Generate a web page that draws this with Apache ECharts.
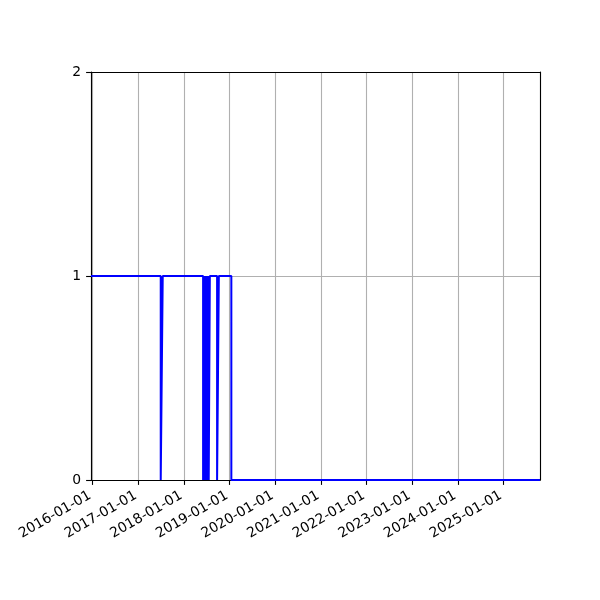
<!DOCTYPE html>
<html>
<head>
<meta charset="utf-8">
<script src="https://cdn.jsdelivr.net/npm/echarts@6/dist/echarts.min.js"></script>
<style>html,body{margin:0;padding:0;background:#fff}#c{width:600px;height:600px}</style>
</head>
<body>
<div id="c"></div>
<script>
// change points: value holds from date until the next change
var dates = [
  '2015-12-19',
  '2017-06-29','2017-07-15',
  '2018-06-03','2018-06-08','2018-06-12','2018-06-17','2018-06-21','2018-06-26',
  '2018-06-30','2018-07-05','2018-07-09','2018-07-14','2018-07-18','2018-07-27',
  '2018-09-23','2018-10-07',
  '2019-01-15',
  '2025-10-20'
];
var values = [
  1,
  0,1,
  0,1,0,1,0,1,
  0,1,0,1,0,1,
  0,1,
  0,
  0
];
var xMin = '2015-12-19';
var xMax = '2025-10-20';
var yTicks = [0, 1, 2];

var YEAR = 365.25 * 24 * 3600 * 1000;
var chart = echarts.init(document.getElementById('c'));
var fs = 13.9;
chart.setOption({
  animation: false,
  backgroundColor: '#fff',
  grid: {left: 91, right: 60, top: 72, bottom: 120, show: false},
  xAxis: [{
    type: 'time',
    min: xMin, max: xMax,
    splitNumber: 10,
    minInterval: YEAR * 0.9,
    maxInterval: YEAR * 1.1,
    axisLine: {show: true, lineStyle: {color: '#000', width: 1.1}},
    axisTick: {show: true, length: 4.9, lineStyle: {color: '#000', width: 1.1}},
    axisLabel: {
      rotate: 30, color: '#000', fontSize: fs, fontFamily: 'DejaVu Sans', margin: 13,
      padding: [0, 3, 0, 0],
      showMinLabel: false, showMaxLabel: false,
      formatter: function (v) { return echarts.time.format(v, '{yyyy}-{MM}-{dd}', false); }
    },
    splitLine: {show: true, lineStyle: {color: '#b0b0b0', width: 1.1}}
  }, {
    type: 'time', position: 'top', min: xMin, max: xMax, z: 5,
    axisLine: {show: true, onZero: false, lineStyle: {color: '#000', width: 1.1}},
    axisTick: {show: false}, axisLabel: {show: false}, splitLine: {show: false}
  }],
  yAxis: [{
    type: 'value', min: yTicks[0], max: yTicks[yTicks.length - 1], interval: 1,
    axisLine: {show: true, lineStyle: {color: '#000', width: 1.1}},
    axisTick: {show: true, length: 4.9, lineStyle: {color: '#000', width: 1.1}},
    axisLabel: {color: '#000', fontSize: fs, fontFamily: 'DejaVu Sans', margin: 10},
    splitLine: {show: true, lineStyle: {color: '#b0b0b0', width: 1.1}}
  }, {
    type: 'value', position: 'right', min: 0, max: 2, z: 5,
    axisLine: {show: true, onZero: false, lineStyle: {color: '#000', width: 1.1}},
    axisTick: {show: false}, axisLabel: {show: false}, splitLine: {show: false}
  }],
  series: [{
    type: 'line',
    step: 'end',
    xAxisIndex: 0, yAxisIndex: 0,
    showSymbol: false,
    z: 10,
    lineStyle: {color: '#0000ff', width: 2},
    data: dates.map(function (d, i) { return [d, values[i]]; })
  }]
});
</script>
</body>
</html>
